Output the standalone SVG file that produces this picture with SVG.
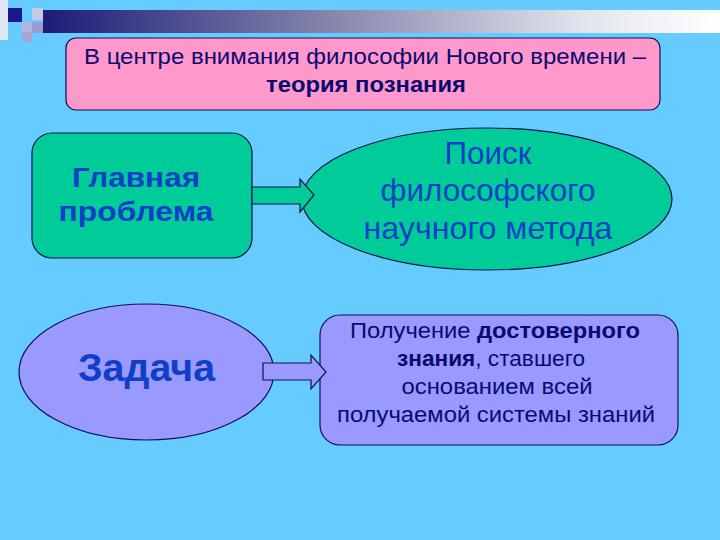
<svg xmlns="http://www.w3.org/2000/svg" width="720" height="540" viewBox="0 0 720 540">
<defs>
<linearGradient id="bar" x1="0" y1="0" x2="1" y2="0">
<stop offset="0" stop-color="#1c1c78"/>
<stop offset="0.45" stop-color="#8c8cb0"/>
<stop offset="0.8" stop-color="#e4e4ee"/>
<stop offset="1" stop-color="#ffffff"/>
</linearGradient>
<style>
.t{font-family:"Liberation Sans",Arial,sans-serif;text-anchor:middle}
.navy{fill:#0a0a6e}
.blue{fill:#0f3fc8}
.shape{stroke:#10104a;stroke-width:1.2}
.green{fill:#00cc99}
.violet{fill:#9999ff}
</style>
</defs>
<rect width="720" height="540" fill="#66ccff"/>
<g id="decoration">
<rect x="0" y="0" width="8" height="40" fill="#dfe8f4"/>
<rect x="43" y="10" width="677" height="23" fill="url(#bar)"/>
<rect x="8" y="8" width="14" height="14" fill="#1a1a8c"/>
<rect x="32" y="8" width="11" height="12" fill="#c8c8e8"/>
<rect x="22" y="22" width="10" height="10" fill="#b4b4e0"/>
<rect x="32" y="22" width="11" height="11" fill="#9c9cd4"/>
<rect x="22" y="32" width="10" height="10" fill="#a4a4d8"/>
</g>
<g id="title">
<rect x="66" y="38" width="594" height="72" rx="10" fill="#ff99cc" class="shape"/>
<text class="t navy" x="365" y="64" font-size="22" textLength="562" lengthAdjust="spacingAndGlyphs">В центре внимания философии Нового времени –</text>
<text class="t navy" x="366" y="92" font-size="22" font-weight="bold" textLength="200" lengthAdjust="spacingAndGlyphs">теория познания</text>
</g>
<g id="main-problem">
<rect x="32" y="133" width="220" height="125" rx="20" class="shape green"/>
<text class="t blue" x="136" y="187" font-size="28" font-weight="bold" textLength="128" lengthAdjust="spacingAndGlyphs">Главная</text>
<text class="t blue" x="136" y="221" font-size="28" font-weight="bold" textLength="155" lengthAdjust="spacingAndGlyphs">проблема</text>
</g>
<g id="method">
<ellipse cx="487" cy="199" rx="185" ry="71" class="shape green"/>
<text class="t blue" x="488" y="164" font-size="32" textLength="87" lengthAdjust="spacingAndGlyphs">Поиск</text>
<text class="t blue" x="488" y="201" font-size="32" textLength="215" lengthAdjust="spacingAndGlyphs">философского</text>
<text class="t blue" x="488" y="239" font-size="32" textLength="249" lengthAdjust="spacingAndGlyphs">научного метода</text>
</g>
<g id="task">
<ellipse cx="146.5" cy="372" rx="127.5" ry="68" class="shape violet"/>
<text class="t blue" x="146.5" y="381" font-size="39" font-weight="bold" textLength="137" lengthAdjust="spacingAndGlyphs">Задача</text>
</g>
<g id="knowledge">
<rect x="320" y="315" width="358" height="130" rx="20" class="shape violet"/>
<text class="t navy" x="495" y="338" font-size="22" textLength="290" lengthAdjust="spacingAndGlyphs">Получение <tspan font-weight="bold">достоверного</tspan></text>
<text class="t navy" x="491" y="366" font-size="22" textLength="188" lengthAdjust="spacingAndGlyphs"><tspan font-weight="bold">знания</tspan>, ставшего</text>
<text class="t navy" x="497" y="394" font-size="22" textLength="191" lengthAdjust="spacingAndGlyphs">основанием всей</text>
<text class="t navy" x="496" y="422" font-size="22" textLength="318" lengthAdjust="spacingAndGlyphs">получаемой системы знаний</text>
</g>
<g id="connectors">
<polygon points="252,187 300,187 300,179 314,195 300,212 300,204 252,204" class="shape green"/>
<polygon points="263,363 311,363 311,355 326,372 311,389 311,380 263,380" class="shape violet"/>
</g>
</svg>
